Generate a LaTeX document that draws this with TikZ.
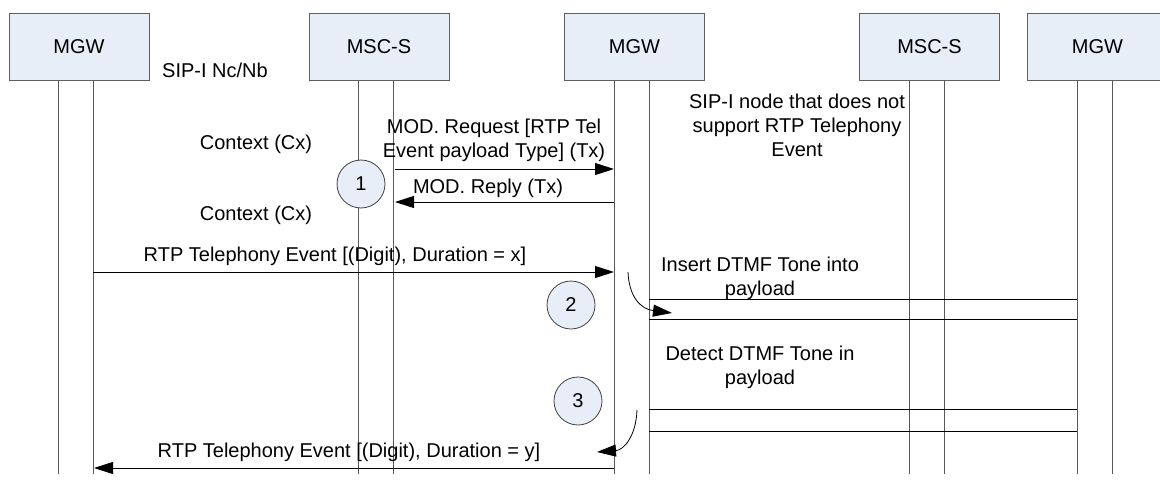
\documentclass[tikz,border=0pt]{standalone}
\usepackage{fontspec}
\setmainfont{Liberation Sans}
\usetikzlibrary{arrows.meta}
\definecolor{boxfill}{RGB}{232,238,248}
\definecolor{boxline}{RGB}{95,95,95}

\begin{document}
\begin{tikzpicture}[x=1pt, y=-1pt,
    every node/.style={font=\fontsize{20}{24}\selectfont},
    entity/.style={draw=boxline, fill=boxfill, line width=1pt, minimum width=140pt, minimum height=67pt, inner sep=0pt},
    lifeline/.style={draw=black!65, line width=1pt},
    msg/.style={draw=black, line width=1pt, -{Triangle[length=19pt,width=12pt]}},
    bearer/.style={draw=black, line width=1pt},
    marker/.style={circle, draw=black!75, fill=boxfill, line width=0.8pt, minimum size=48pt, inner sep=0pt},
    note/.style={align=center, inner sep=0pt}]
  \clip (0,0) rectangle (1160,482);

  % Entity boxes, each with two lifelines
  \foreach \e/\x/\t in {mgwA/79/MGW, mscA/379/MSC-S, mgwB/634.5/MGW, mscB/929.5/MSC-S, mgwC/1097.5/MGW} {
    \node[entity] (\e) at (\x,46.5) {\t};
    \coordinate (\e-lt) at (\x-20.5,80);
    \coordinate (\e-lb) at (\x-20.5,474);
    \coordinate (\e-rt) at (\x+14.5,80);
    \coordinate (\e-rb) at (\x+14.5,474);
    \draw[lifeline] (\e-lt) -- (\e-lb);
    \draw[lifeline] (\e-rt) -- (\e-rb);
  }

  % Labels
  \node[note, anchor=west] (sip) at (162,70) {SIP-I Nc/Nb};
  \node[note] (cxA) at (256,144) {Context (Cx)};
  \node[note] (cxB) at (256,215) {Context (Cx)};
  \node[note] (req) at (494,140) {MOD. Request [RTP Tel\\Event payload Type] (Tx)};
  \node[note] (rep) at (488,188) {MOD. Reply (Tx)};
  \node[note] (nosup) at (797,125) {SIP-I node that does not\\support RTP Telephony\\Event};
  \node[note] (evx) at (335,256) {RTP Telephony Event [(Digit), Duration = x]};
  \node[note] (ins) at (760,278) {Insert DTMF Tone into\\payload};
  \node[note] (det) at (760,367) {Detect DTMF Tone in\\payload};
  \node[note] (evy) at (349,452) {RTP Telephony Event [(Digit), Duration = y]};

  % Numbered steps
  \foreach \k/\x/\y in {1/361/184, 2/571/305, 3/578/401} {
    \node[marker] (step\k) at (\x,\y) {\k};
  }

  % Message end points
  \coordinate (reqS) at (395,169);
  \coordinate (reqE) at (614,169);
  \coordinate (repS) at (614,202);
  \coordinate (repE) at (395,202);
  \coordinate (evxS) at (93,272);
  \coordinate (evxE) at (614,272);
  \coordinate (evyS) at (614,468);
  \coordinate (evyE) at (94,468);

  % Messages
  \draw[msg] (reqS) -- (reqE);
  \draw[msg] (repS) -- (repE);
  \draw[msg] (evxS) -- (evxE);
  \draw[msg] (evyS) -- (evyE);

  % Payload towards the far MGW
  \foreach \y [count=\j] in {299,319,409,431} {
    \coordinate (pl\j) at (649,\y);
    \coordinate (pr\j) at (1077,\y);
    \draw[bearer] (pl\j) -- (pr\j);
  }

  % Turn-round arrows at the middle MGW
  \coordinate (insS) at (628,272);
  \coordinate (insE) at (672,313);
  \coordinate (detS) at (637,410);
  \coordinate (detE) at (597,452);
  \draw[msg, line width=0.8pt] (insS) .. controls (629,296) and (640,309) .. (insE);
  \draw[msg, line width=0.8pt] (detS) .. controls (636,436) and (624,450) .. (detE);
\end{tikzpicture}
\end{document}
